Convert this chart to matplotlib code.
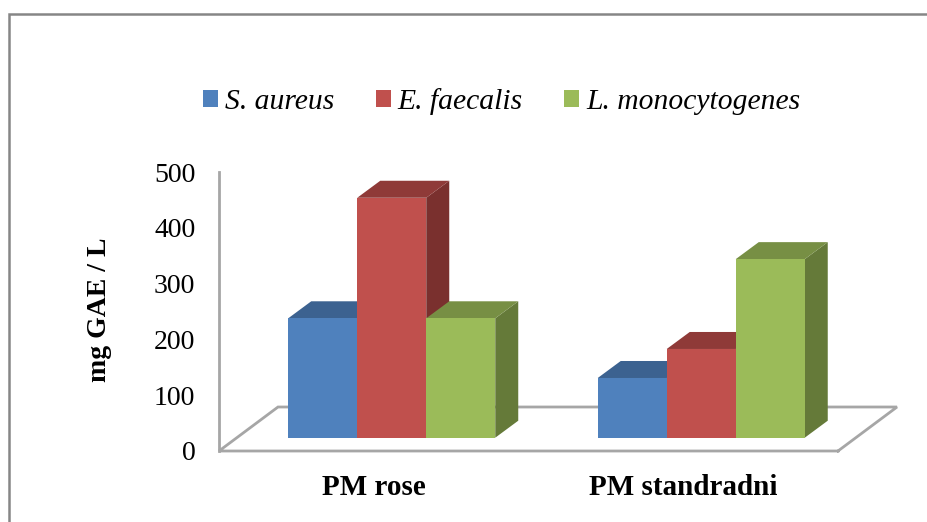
import matplotlib
matplotlib.use("Agg")
import matplotlib.pyplot as plt
from matplotlib.patches import Rectangle

categories = ["PM rose", "PM standradni"]
series_names = ["S. aureus", "E. faecalis", "L. monocytogenes"]
s_aureus = [214, 107]
e_faecalis = [430, 159]
l_monocytogenes = [214, 320]
yticks = [0, 100, 200, 300, 400, 500]

front = ["#4F81BD", "#C0504D", "#9BBB59"]
top = ["#3C6290", "#8F3A38", "#778F44"]
side = ["#2F4E73", "#7A302E", "#657A39"]
GREY = "#A6A6A6"

plt.rcParams["font.family"] = ["Liberation Serif", "DejaVu Serif"]
W, H = 928, 522
fig = plt.figure(figsize=(W / 100, H / 100), dpi=100)
L, R, B, T = 219, 838, 451, 172
ax = fig.add_axes([L / W, 1 - B / H, (R - L) / W, (B - T) / H])
ax.set_xlim(0, 2)
ax.set_ylim(0, 500)
ax.patch.set_alpha(0)
for s in ["top", "right", "bottom", "left"]:
    ax.spines[s].set_visible(False)

px = 2 / (R - L)          # data units per pixel, x
py = 500 / (B - T)        # data units per pixel, y


def line(xs, ys, **kw):
    ax.plot(xs, ys, color=GREY, lw=2, clip_on=False, solid_capstyle="projecting",
            solid_joinstyle="miter", **kw)


# floor and value axis
fx, fy = 59 * px, 44 * py
line([0, 0], [500, 0])
line([2, 0, fx, 2 + fx, 2], [0, 0, fy, fy, 0])

# bars
gx, gy = 18 * px, 13.3 * py     # gap between front of floor and bars
dx, dy = 23 * px, 17 * py       # bar depth
w = 69 * px
all_series = [s_aureus, e_faecalis, l_monocytogenes]
for c in range(len(categories)):
    for i, vals in reversed(list(enumerate(all_series))):
        v = vals[c]
        x0 = c + 0.5 + gx + (i - 1.5) * w
        y0 = gy
        x1 = x0 + w
        y1 = gy + v
        ax.fill([x1, x1 + dx, x1 + dx, x1], [y0, y0 + dy, y1 + dy, y1],
                color=side[i], lw=0, clip_on=False, zorder=3 + i * 0.1)
        ax.fill([x0, x0 + dx, x1 + dx, x1], [y1, y1 + dy, y1 + dy, y1],
                color=top[i], lw=0, clip_on=False, zorder=3 + i * 0.1)
for c in range(len(categories)):
    for i, vals in enumerate(all_series):
        x0 = c + 0.5 + gx + (i - 1.5) * w
        ax.bar(x0, vals[c], width=w, bottom=gy, align="edge", color=front[i],
               lw=0, clip_on=False, zorder=4 + i * 0.1)

ax.set_yticks(yticks)
ax.set_xticks([0.5, 1.5])
ax.set_xticklabels(categories, fontsize=21, fontweight="bold")
ax.tick_params(axis="both", length=0)
ax.tick_params(axis="y", labelsize=20, pad=17, labelcolor="black")
ax.tick_params(axis="x", pad=16.5)
ax.set_ylabel("mg GAE / L", fontsize=20, fontweight="bold")
ax.yaxis.set_label_coords((112 - L) / (R - L), (B - 310) / (B - T))

# legend
handles = [Rectangle((0, 0), 1, 1, color=c, lw=0) for c in front]
fig.legend(handles, series_names, loc="center", bbox_to_anchor=(501.5 / W, 1 - 101.5 / H),
           ncol=3, frameon=False, prop={"style": "italic", "size": 21.3},
           handlelength=0.52, handleheight=0.52, handletextpad=0.22, columnspacing=1.4)

# chart frame
fig.add_artist(Rectangle((9.5 / W, -0.05), (W + 20) / W, 1 - 13.5 / H + 0.05,
                         transform=fig.transFigure, fill=False, ec="#868686", lw=1.8))
fig.savefig("out.png", dpi=100, facecolor="white")
